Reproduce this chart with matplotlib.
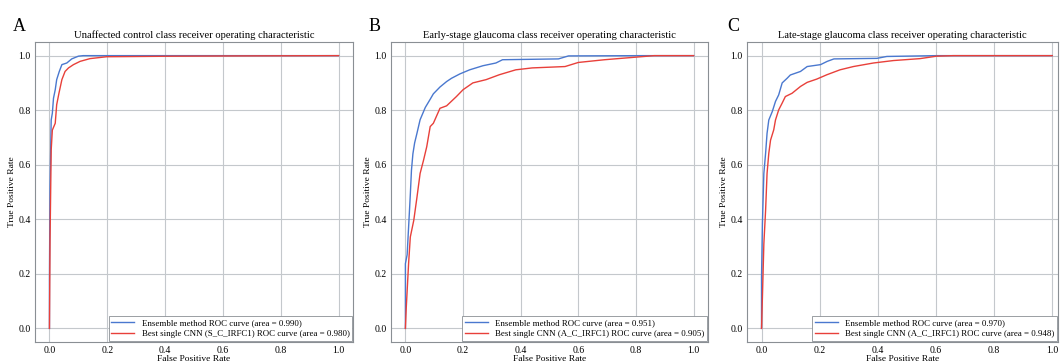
import matplotlib
matplotlib.use('Agg')
import matplotlib.pyplot as plt

plt.rcParams['font.family'] = ['Liberation Serif', 'DejaVu Serif']

# ROC points
fprA_ens = [0, 0, 0.002, 0.006, 0.010, 0.014, 0.020, 0.025, 0.034, 0.043, 0.060, 0.077, 0.100, 0.117, 1.0]
tprA_ens = [0, 0.175, 0.52, 0.764, 0.789, 0.844, 0.875, 0.912, 0.942, 0.967, 0.973, 0.988, 0.998, 1.0, 1.0]
fprA_cnn = [0, 0.002, 0.006, 0.010, 0.020, 0.025, 0.033, 0.043, 0.054, 0.066, 0.083, 0.106, 0.140, 0.198, 0.43, 0.66, 1.0]
tprA_cnn = [0, 0.323, 0.654, 0.727, 0.752, 0.820, 0.863, 0.912, 0.942, 0.955, 0.967, 0.979, 0.989, 0.996, 0.998, 0.999, 1.0]

fprB_ens = [0, 0, 0.006, 0.011, 0.017, 0.021, 0.026, 0.032, 0.040, 0.051, 0.057, 0.069, 0.086, 0.097,
            0.120, 0.143, 0.160, 0.189, 0.223, 0.269, 0.314, 0.337, 0.531, 0.566, 0.829, 1.0]
tprB_ens = [0, 0.237, 0.27, 0.37, 0.49, 0.58, 0.64, 0.68, 0.715, 0.765, 0.78, 0.81, 0.84, 0.86,
            0.885, 0.905, 0.917, 0.933, 0.948, 0.963, 0.973, 0.985, 0.988, 0.999, 1.0, 1.0]
fprB_cnn = [0, 0.003, 0.011, 0.017, 0.029, 0.040, 0.051, 0.063, 0.074, 0.086, 0.097, 0.120, 0.143, 0.177,
            0.200, 0.234, 0.280, 0.326, 0.383, 0.440, 0.554, 0.600, 0.691, 0.760, 0.829, 0.863, 1.0]
tprB_cnn = [0, 0.077, 0.237, 0.335, 0.396, 0.48, 0.568, 0.617, 0.666, 0.74, 0.752, 0.807, 0.816, 0.85,
            0.875, 0.90, 0.912, 0.93, 0.948, 0.955, 0.96, 0.975, 0.985, 0.991, 0.997, 1.0, 1.0]

fprC_ens = [0, 0, 0.003, 0.008, 0.014, 0.019, 0.025, 0.037, 0.048, 0.059, 0.071, 0.088, 0.099, 0.134,
            0.157, 0.203, 0.226, 0.249, 0.397, 0.431, 0.602, 1.0]
tprC_ens = [0, 0.188, 0.384, 0.568, 0.642, 0.715, 0.764, 0.795, 0.832, 0.856, 0.90, 0.917, 0.929, 0.942,
            0.96, 0.967, 0.979, 0.988, 0.99, 0.997, 1.0, 1.0]
fprC_cnn = [0, 0.003, 0.008, 0.014, 0.019, 0.025, 0.031, 0.042, 0.048, 0.059, 0.071, 0.082, 0.105, 0.134,
            0.157, 0.190, 0.225, 0.270, 0.316, 0.385, 0.454, 0.545, 0.602, 0.660, 1.0]
tprC_cnn = [0, 0.114, 0.31, 0.433, 0.568, 0.642, 0.69, 0.728, 0.764, 0.801, 0.826, 0.85, 0.862, 0.887,
            0.902, 0.914, 0.93, 0.948, 0.96, 0.973, 0.982, 0.989, 0.998, 1.0, 1.0]

titles = ['Unaffected control class receiver operating characteristic',
          'Early-stage glaucoma class receiver operating characteristic',
          'Late-stage glaucoma class receiver operating characteristic']
letters = ['A', 'B', 'C']
ens_auc = [0.990, 0.951, 0.970]
cnn_auc = [0.980, 0.905, 0.948]
cnn_names = ['S_C_IRFC1', 'A_C_IRFC1', 'A_C_IRFC1']

curves = [(fprA_ens, tprA_ens, fprA_cnn, tprA_cnn),
          (fprB_ens, tprB_ens, fprB_cnn, tprB_cnn),
          (fprC_ens, tprC_ens, fprC_cnn, tprC_cnn)]

W, H = 1060, 362
fig = plt.figure(figsize=(W / 100, H / 100), dpi=100)

# axes boxes in pixels: left, right, xlim right
boxes = [(35, 353, 1.05), (391, 708, 1.05), (747, 1058, 1.02)]
letter_x = [13, 369, 727]

for i in range(3):
    l, r, xr = boxes[i]
    ax = fig.add_axes([l / W, 1 - 342 / H, (r - l) / W, 300 / H])
    fe, te, fc, tc = curves[i]
    ax.plot(fe, te, color='#4a78cf', lw=1.0,
            label='Ensemble method ROC curve (area = %.3f)' % ens_auc[i])
    ax.plot(fc, tc, color='#e8403a', lw=1.0,
            label='Best single CNN (%s) ROC curve (area = %.3f)' % (cnn_names[i], cnn_auc[i]))
    ax.set_xlim(-0.05, xr)
    ax.set_ylim(-0.05, 1.05)
    ax.set_xticks([0, 0.2, 0.4, 0.6, 0.8, 1.0])
    ax.set_yticks([0, 0.2, 0.4, 0.6, 0.8, 1.0])
    ax.tick_params(labelsize=7, length=0, pad=3)
    ax.grid(True, color='#c4c8cc', lw=0.8)
    ax.set_axisbelow(True)
    for s in ax.spines.values():
        s.set_color('#8a8f94')
        s.set_linewidth(0.8)
    ax.set_title(titles[i], fontsize=7.6, pad=3)
    ax.set_xlabel('False Positive Rate', fontsize=6.8, labelpad=0)
    ax.set_ylabel('True Positive Rate', fontsize=6.8, labelpad=2)
    leg = ax.legend(loc='lower right', fontsize=6.4, fancybox=False, borderaxespad=0.1,
                    handlelength=2.6, framealpha=1, borderpad=0.3, labelspacing=0.35)
    leg.get_frame().set_edgecolor('#8a8f94')
    leg.get_frame().set_linewidth(0.6)
    fig.text(letter_x[i] / W, 1 - 31 / H, letters[i], fontsize=13)

fig.savefig('out.png', dpi=100)
